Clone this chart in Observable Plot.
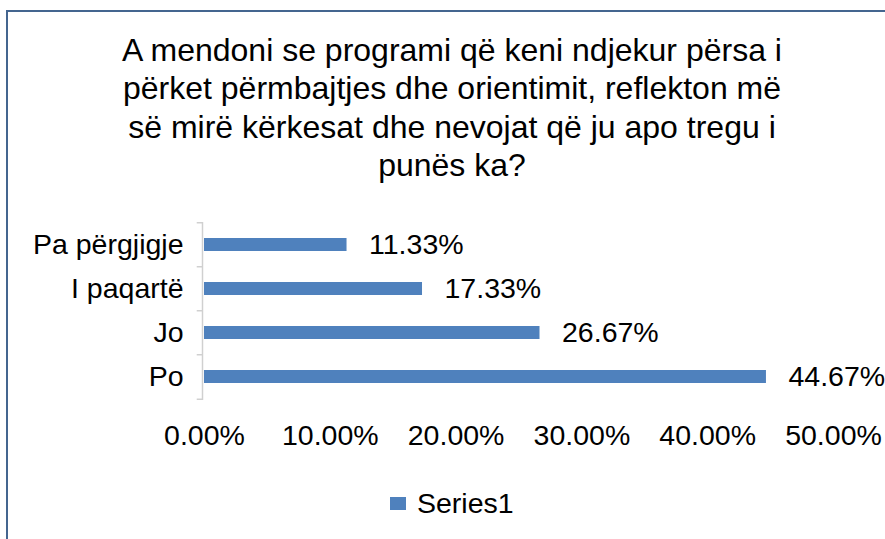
<!DOCTYPE html>
<html>
<head>
<meta charset="utf-8">
<script src="https://cdn.jsdelivr.net/npm/d3@7"></script>
<script src="https://cdn.jsdelivr.net/npm/@observablehq/plot@0.6"></script>
<style>
  html, body { margin: 0; padding: 0; background: #fff; overflow: hidden; width: 885px; height: 539px; }
  body { position: relative; font-family: "Liberation Sans", Arial, sans-serif; color: #000; }
  #frame { position: absolute; left: 6px; top: 10px; width: 1000px; height: 1000px; border: 2px solid #44658f; box-sizing: border-box; }
  #title { position: absolute; left: 52px; top: 31px; width: 800px; text-align: center; font-size: 32px; line-height: 38.3px; }
  #chart { position: absolute; left: 0; top: 200px; }
  #legend { position: absolute; left: 390px; top: 486px; height: 34px; display: flex; align-items: center; font-size: 28.5px; }
  #legend .sw { width: 16px; height: 13px; margin-right: 11px; }
</style>
</head>
<body>
<div id="frame"></div>
<div id="title"></div>
<div id="chart"></div>
<div id="legend"></div>
<script>
const titleLines = [
  "A mendoni se programi që keni ndjekur përsa i",
  "përket përmbajtjes dhe orientimit, reflekton më",
  "së mirë kërkesat dhe nevojat që ju apo tregu i",
  "punës ka?"
];
const categories = ["Pa përgjigje", "I paqartë", "Jo", "Po"];
const values = [11.33, 17.33, 26.67, 44.67];
const xTicks = [0, 10, 20, 30, 40, 50];
const seriesName = "Series1";
const barColor = "#4f81bd";

const data = categories.map((c, i) => ({category: c, value: values[i]}));
const fmt = d => d.toFixed(2) + "%";

document.getElementById("title").innerHTML = titleLines.join("<br>");

const step = 44.5;
const chart = Plot.plot({
  width: 885,
  height: 270,
  marginLeft: 204,
  marginRight: 52,
  marginTop: 22,
  marginBottom: 70,
  style: {fontSize: "28.5px", fontFamily: "'Liberation Sans', Arial, sans-serif", background: "none", color: "#000", overflow: "visible"},
  x: {domain: [0, 50], label: null},
  y: {domain: categories, paddingInner: 0.7, paddingOuter: 0.35, label: null},
  marks: [
    Plot.barX(data, {x: "value", y: "category", fill: barColor}),
    Plot.ruleX([0], {stroke: "#d0d0d0", strokeWidth: 1.5, dx: -2}),
    Plot.ruleY(categories, {y: d => d, x1: -0.42, x2: 0, dx: -2, dy: -step / 2, stroke: "#d0d0d0", strokeWidth: 1.5}),
    Plot.ruleY(categories.slice(-1), {y: d => d, x1: -0.42, x2: 0, dx: -2, dy: step / 2, stroke: "#d0d0d0", strokeWidth: 1.5}),
    Plot.text(data, {x: "value", y: "category", text: d => fmt(d.value), textAnchor: "start", dx: 22, fill: "#000"}),
    Plot.axisY({tickSize: 0, tickPadding: 21, label: null, fill: "#000"}),
    Plot.axisX({ticks: xTicks, tickFormat: fmt, tickSize: 0, tickPadding: 24, label: null, fill: "#000"})
  ]
});
document.getElementById("chart").appendChild(chart);

const legend = document.getElementById("legend");
const sw = document.createElement("span");
sw.className = "sw";
sw.style.background = barColor;
legend.appendChild(sw);
const lt = document.createElement("span");
lt.textContent = seriesName;
legend.appendChild(lt);
</script>
</body>
</html>
